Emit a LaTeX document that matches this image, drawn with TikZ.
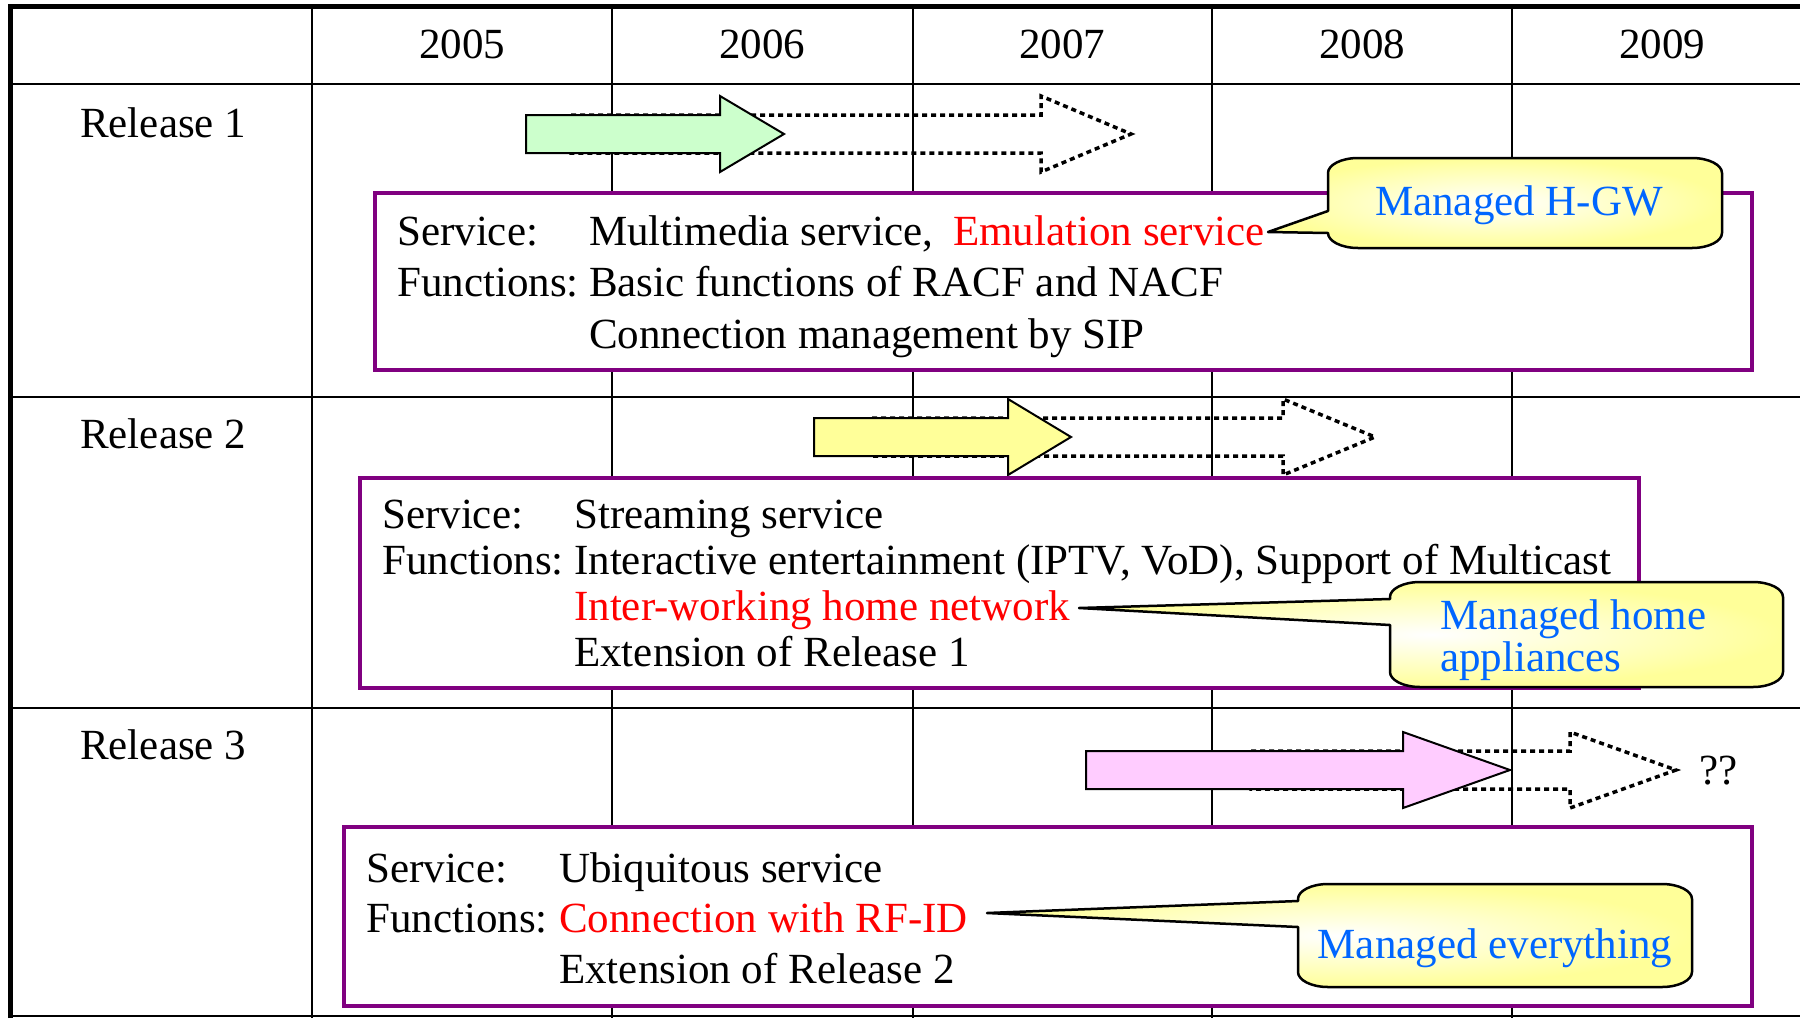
\documentclass[tikz,border=0pt]{standalone}
\usepackage{fontspec}
\setmainfont{Liberation Serif}
\definecolor{relpurple}{RGB}{128,0,128}
\definecolor{calloutyellow}{RGB}{255,255,153}
\definecolor{calloutblue}{RGB}{0,102,255}
\definecolor{relgreen}{RGB}{204,255,204}
\definecolor{relyellow}{RGB}{255,255,153}
\definecolor{relpink}{RGB}{255,204,255}
\newcommand\relfont{\fontsize{43}{43}\selectfont}
\newcommand\arrowshaft{19}
\newcommand\arrowhead{38}
\newcommand\calloutrx{30}
\newcommand\calloutry{15}
\newcommand\calloutk{0.45}
\newcommand\relarrow[5]{
  \draw[#1] (#2, #5 - \arrowshaft) -- (#3, #5 - \arrowshaft) -- (#3, #5 - \arrowhead) -- (#4, #5) -- (#3, #5 + \arrowhead) -- (#3, #5 + \arrowshaft) -- (#2, #5 + \arrowshaft) -- cycle ;
}
\newcommand\relcallout[7]{
  \draw[callout] (#1, #6) -- (#7) -- (#1, #5) -- (#1, #2 + \calloutry)
    .. controls (#1, #2 + \calloutk * \calloutry) and (#1 + \calloutk * \calloutrx, #2) .. (#1 + \calloutrx, #2)
    -- (#3 - \calloutrx, #2)
    .. controls (#3 - \calloutk * \calloutrx, #2) and (#3, #2 + \calloutk * \calloutry) .. (#3, #2 + \calloutry)
    -- (#3, #4 - \calloutry)
    .. controls (#3, #4 - \calloutk * \calloutry) and (#3 - \calloutk * \calloutrx, #4) .. (#3 - \calloutrx, #4)
    -- (#1 + \calloutrx, #4)
    .. controls (#1 + \calloutk * \calloutrx, #4) and (#1, #4 - \calloutk * \calloutry) .. (#1, #4 - \calloutry) -- cycle ;
}
\begin{document}
\begin{tikzpicture}[x=1pt, y=-1pt,
    every node/.style={inner sep=0pt, font=\relfont},
    tableline/.style={line width=2.5pt},
    tableborder/.style={line width=5pt},
    relbox/.style={draw=relpurple, line width=4pt, fill=white},
    solidarrow/.style={draw=black, line width=2pt},
    dottedarrow/.style={draw=black, line width=3.5pt, dash pattern=on 5pt off 4pt},
    callout/.style={draw=black, line width=2.5pt, line join=round, inner color=white, outer color=calloutyellow},
    redtext/.style={text=red},
    bluetext/.style={text=calloutblue}]
    \useasboundingbox (0,0) rectangle (1800,1018) ;
    % table
    \foreach \x in {312, 612, 913, 1212, 1512}
      \draw[tableline] (\x, 6) -- (\x, 1018) ;
    \draw[tableline] (10, 84) -- (1800, 84) ;
    \draw[tableline] (10, 397) -- (1800, 397) ;
    \draw[tableline] (10, 708) -- (1800, 708) ;
    \draw[tableline] (10, 1016) -- (1800, 1016) ;
    \draw[tableborder] (10, 1018) -- (10, 6) -- (1800, 6) ;
    \foreach \yr [count=\i] in {2005, 2006, 2007, 2008, 2009}
      \draw (162 + 300 * \i, 58) node[anchor=base] (y\yr) {\yr} ;
    \draw (80, 137) node[anchor=base west] (rel1) {Release 1} ;
    \draw (80, 448) node[anchor=base west] (rel2) {Release 2} ;
    \draw (80, 759) node[anchor=base west] (rel3) {Release 3} ;
    % arrows
    \relarrow{dottedarrow}{571}{1041}{1131}{134}
    \relarrow{solidarrow, fill=relgreen}{526}{720}{784}{134}
    \relarrow{dottedarrow}{872}{1283}{1375}{437}
    \relarrow{solidarrow, fill=relyellow}{814}{1008}{1071}{437}
    \relarrow{dottedarrow}{1251}{1570}{1676}{770}
    \relarrow{solidarrow, fill=relpink}{1086}{1403}{1510}{770}
    \draw (1699, 784) node[anchor=base west] (what) {??} ;
    % Release 1
    \draw[relbox] (375, 193) rectangle (1752, 370) ;
    \draw (397, 245) node[anchor=base west] (srv1) {Service:} ;
    \draw (589, 245) node[anchor=base west] (mm) {Multimedia service,} ;
    \draw (953, 245) node[anchor=base west, redtext] (emu) {Emulation service} ;
    \draw (397, 296) node[anchor=base west] (fn1) {Functions:} ;
    \draw (589, 296) node[anchor=base west] (racf) {Basic functions of RACF and NACF} ;
    \draw (589, 348) node[anchor=base west] (sip) {Connection management by SIP} ;
    % Release 2
    \draw[relbox] (360, 478) rectangle (1639, 688) ;
    \draw (382, 528) node[anchor=base west] (srv2) {Service:} ;
    \draw (574, 528) node[anchor=base west] (strm) {Streaming service} ;
    \draw (382, 574) node[anchor=base west] (fn2) {Functions:} ;
    \draw (574, 574) node[anchor=base west] (iptv) {Interactive entertainment (IPTV, VoD), Support of Multicast} ;
    \draw (574, 620) node[anchor=base west, redtext] (inet) {Inter-working home network} ;
    \draw (574, 666) node[anchor=base west] (ext1) {Extension of Release 1} ;
    % Release 3
    \draw[relbox] (344, 827) rectangle (1752, 1006) ;
    \draw (366, 882) node[anchor=base west] (srv3) {Service:} ;
    \draw (559, 882) node[anchor=base west] (ubiq) {Ubiquitous service} ;
    \draw (366, 932) node[anchor=base west] (fn3) {Functions:} ;
    \draw (559, 932) node[anchor=base west, redtext] (rfid) {Connection with RF-ID} ;
    \draw (559, 983) node[anchor=base west] (ext2) {Extension of Release 2} ;
    % callouts
    \coordinate (hgwtip) at (1268, 232) ;
    \coordinate (hometip) at (1079, 608) ;
    \coordinate (alltip) at (987, 913) ;
    \relcallout{1328}{158}{1722}{248}{211}{233}{hgwtip}
    \relcallout{1390}{582}{1783}{687}{599}{625}{hometip}
    \relcallout{1298}{884}{1692}{987}{901}{927}{alltip}
    \draw (1519, 215) node[anchor=base, bluetext] (hgw) {Managed H-GW} ;
    \draw (1440, 629) node[anchor=base west, bluetext] (home) {Managed home} ;
    \draw (1440, 671) node[anchor=base west, bluetext] (appl) {appliances} ;
    \draw (1495, 958) node[anchor=base, bluetext] (all) {Managed everything} ;
\end{tikzpicture}
\end{document}
